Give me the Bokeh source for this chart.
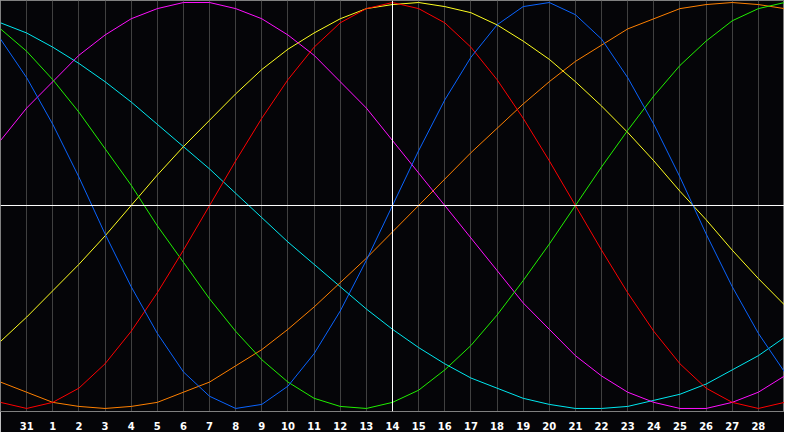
from bokeh.embed import file_html
from bokeh.models import ColumnDataSource, Range1d, Span, FixedTicker
from bokeh.plotting import figure
from bokeh.resources import INLINE

# Biorhythm chart, 30 Jan .. 1 Mar, "today" is the 14th (white vertical line)
day_numbers = [30, 31, 1, 2, 3, 4, 5, 6, 7, 8, 9, 10, 11, 12, 13, 14,
               15, 16, 17, 18, 19, 20, 21, 22, 23, 24, 25, 26, 27, 28, 1]
today_index = 15

# cycle values in percent, one per day
physical = [82, 63, 40, 14, -14, -40, -63, -82, -94, -100, -98, -89, -73, -52, -27, 0,
            27, 52, 73, 89, 98, 100, 94, 82, 63, 40, 14, -14, -40, -63, -82]
emotional = [-97, -100, -97, -90, -78, -62, -43, -22, 0, 22, 43, 62, 78, 90, 97, 100,
             97, 90, 78, 62, 43, 22, 0, -22, -43, -62, -78, -90, -97, -100, -97]
intellectual = [87, 76, 62, 46, 28, 10, -10, -28, -46, -62, -76, -87, -95, -99, -100, -97,
                -91, -81, -69, -54, -37, -19, 0, 19, 37, 54, 69, 81, 91, 97, 100]
intuitive = [32, 48, 61, 74, 84, 92, 97, 100, 100, 97, 92, 84, 74, 61, 48, 32,
             16, 0, -16, -32, -48, -61, -74, -84, -92, -97, -100, -100, -97, -92, -84]
aesthetic = [-67, -55, -42, -29, -15, 0, 15, 29, 42, 55, 67, 77, 85, 92, 97, 99,
             100, 98, 95, 89, 81, 72, 61, 49, 36, 22, 7, -7, -22, -36, -49]
awareness = [-87, -92, -97, -99, -100, -99, -97, -92, -87, -79, -71, -61, -50, -38, -26, -13,
             0, 13, 26, 38, 50, 61, 71, 79, 87, 92, 97, 99, 100, 99, 97]
spiritual = [90, 85, 78, 70, 61, 51, 40, 29, 18, 6, -6, -18, -29, -40, -51, -61,
             -70, -78, -85, -90, -95, -98, -100, -100, -99, -96, -93, -88, -81, -74, -65]

cycles = [
    ('spiritual', spiritual, '#00e8f0'),
    ('awareness', awareness, '#ff8000'),
    ('aesthetic', aesthetic, '#ffff20'),
    ('intuitive', intuitive, '#ff10ff'),
    ('intellectual', intellectual, '#20f000'),
    ('emotional', emotional, '#ff0000'),
    ('physical', physical, '#0a64ff'),
]

BG = '#050508'

xs = list(range(len(day_numbers)))

p = figure(width=784, height=432, output_backend="svg", toolbar_location=None,
           x_range=Range1d(0, len(day_numbers) - 1), y_range=Range1d(-101.5, 101),
           min_border_left=0, min_border_right=0, min_border_top=0, min_border_bottom=20)
p.background_fill_color = BG
p.border_fill_color = BG
p.outline_line_color = '#808080'
p.outline_line_width = 1

for name, values, colour in cycles:
    source = ColumnDataSource(data=dict(x=xs, y=values))
    p.line('x', 'y', source=source, line_color=colour, line_width=1)

# axes: only the day labels at the bottom
p.yaxis.visible = False
ticks = xs[1:-1]
p.xaxis.ticker = FixedTicker(ticks=ticks)
p.xaxis.major_label_overrides = {i: str(day_numbers[i]) for i in ticks}
p.xaxis.major_label_text_color = 'white'
p.xaxis.major_label_text_font = 'DejaVu Sans'
p.xaxis.major_label_text_font_style = 'bold'
p.xaxis.major_label_text_font_size = '10px'
p.xaxis.major_label_standoff = 4
p.xaxis.major_tick_line_color = None
p.xaxis.minor_tick_line_color = None
p.xaxis.axis_line_color = '#808080'

p.xgrid.ticker = FixedTicker(ticks=ticks)
p.xgrid.grid_line_color = '#404040'
p.ygrid.grid_line_color = None

p.add_layout(Span(location=0, dimension='width', line_color='white', line_width=1))
p.add_layout(Span(location=today_index, dimension='height', line_color='white', line_width=1))

open("out.html", "w").write(file_html(p, INLINE))
